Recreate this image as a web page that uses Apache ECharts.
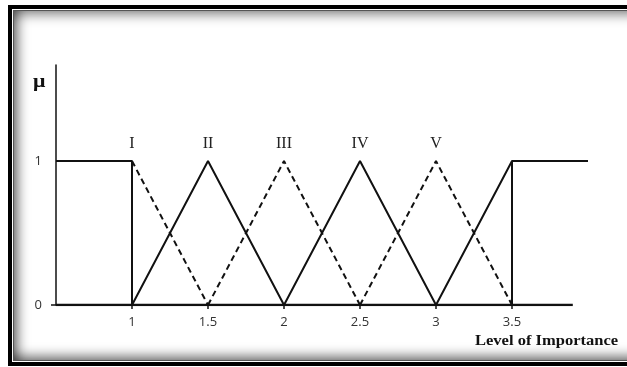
<!DOCTYPE html>
<html>
<head>
<meta charset="utf-8">
<script src="https://cdn.jsdelivr.net/npm/echarts@6/dist/echarts.min.js"></script>
<style>
  html, body { margin: 0; padding: 0; background: #fff; overflow: hidden; }
  #wrap { position: relative; width: 627px; height: 367px; overflow: hidden; background: #fff; }
  .frame { position: absolute; left: 8px; top: 5px; width: 700px; height: 361px; box-sizing: border-box;
           border: 4px solid #000; border-right: none; }
  .inner { position: absolute; left: 1px; top: 1px; right: 0; bottom: 1px; border: 1px solid #555; border-right: none;
           box-shadow: inset 12px 0 12px -8px rgba(0,0,0,0.55), inset 0 12px 12px -8px rgba(0,0,0,0.45), inset 0 -12px 12px -8px rgba(0,0,0,0.55); }
  #main { position: absolute; left: 0; top: 0; width: 627px; height: 367px; }
</style>
</head>
<body>
<div id="wrap">
  <div class="frame"><div class="inner"></div></div>
  <div id="main"></div>
</div>
<script>
// membership functions, x = level of importance, y = mu
var xTicks = [1, 1.5, 2, 2.5, 3, 3.5];
var yTicks = [0, 1];

var baseline = [[0.5, 0], [3.9, 0]];
var leftShoulder = [[0.5, 1], [1, 1], [1, 0]];
var setI = [[1, 1], [1.5, 0]];
var setII = [[1, 0], [1.5, 1], [2, 0]];
var setIII = [[1.5, 0], [2, 1], [2.5, 0]];
var setIV = [[2, 0], [2.5, 1], [3, 0]];
var setV = [[2.5, 0], [3, 1], [3.5, 0]];
var rightRise = [[3, 0], [3.5, 1], [4, 1]];
var rightDrop = [[3.5, 1], [3.5, 0]];

var setNames = ['I', 'II', 'III', 'IV', 'V'];

function withLabel(points, name) {
    return points.map(function (p) {
        if (p[1] === 1 && name) {
            return {value: p, label: {show: true, formatter: name}};
        }
        return p;
    });
}

function line(name, points, dashed, labelName, width) {
    return {
        name: name,
        type: 'line',
        data: withLabel(points, labelName),
        symbol: 'circle',
        symbolSize: 0.01,
        showSymbol: true,
        itemStyle: {color: 'transparent', borderWidth: 0},
        animation: false,
        lineStyle: {color: '#111', width: width || 2, type: dashed ? [6, 4] : 'solid'},
        label: {
            show: false,
            position: 'top',
            distance: 9,
            color: '#222',
            fontFamily: 'Liberation Serif',
            fontSize: 16
        },
        z: 3
    };
}

var myChart = echarts.init(document.getElementById('main'), null, {renderer: 'canvas'});

var option = {
    backgroundColor: 'transparent',
    grid: {left: 56, right: 39, top: 65, bottom: 62, containLabel: false, outerBoundsMode: 'none'},
    xAxis: {
        type: 'value',
        min: 0.5,
        max: 4,
        axisLine: {show: false},
        axisTick: {show: true, length: 4, customValues: xTicks, lineStyle: {color: '#111', width: 1.5}},
        axisLabel: {
            customValues: xTicks,
            margin: 11,
            color: '#333',
            fontFamily: 'Open Sans',
            fontSize: 13
        },
        splitLine: {show: false}
    },
    yAxis: {
        type: 'value',
        min: 0,
        max: 1.667,
        axisLine: {show: true, lineStyle: {color: '#111', width: 1.5}},
        axisTick: {show: true, length: 5, customValues: [0], lineStyle: {color: '#111', width: 1.5}},
        axisLabel: {
            customValues: yTicks,
            margin: 14,
            color: '#333',
            fontFamily: 'Open Sans',
            fontSize: 13
        },
        splitLine: {show: false}
    },
    graphic: [
        {type: 'text', x: 33, y: 73, scaleX: 1.15, style: {text: 'μ', font: 'bold 19px "Liberation Serif"', fill: '#111'}},
        {type: 'text', x: 475, y: 334, scaleX: 1.18, style: {text: 'Level of Importance', font: 'bold 14px "Liberation Serif"', fill: '#111'}}
    ],
    series: [
        line('axis', baseline, false, null, 2.5),
        line('left', leftShoulder, false),
        line('I', setI, true, setNames[0]),
        line('II', setII, false, setNames[1]),
        line('III', setIII, true, setNames[2]),
        line('IV', setIV, false, setNames[3]),
        line('V', setV, true, setNames[4]),
        line('rise', rightRise, false),
        line('drop', rightDrop, false)
    ]
};

myChart.setOption(option);
</script>
</body>
</html>
